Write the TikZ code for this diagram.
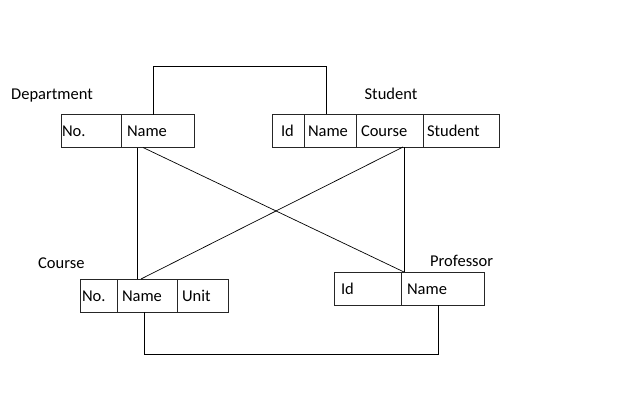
\documentclass[tikz,border=0pt]{standalone}
\usepackage{fontspec}
\setmainfont{Carlito}
\begin{document}
\begin{tikzpicture}[x=1pt,y=-1pt,
  every node/.style={font=\fontsize{16.5}{19}\selectfont, text=black},
  cell/.style n args={2}{draw=black!85, line width=0.8pt, minimum height=33pt, inner ysep=0pt,
     outer sep=0pt, inner xsep=#2, text width=#1, text height=13pt, text depth=2pt,
     align=left, anchor=west},
  title/.style={inner sep=0pt},
  link/.style={draw=black, line width=0.7pt}]
\useasboundingbox (0,0) rectangle (640,420);
% Department
\node[title, anchor=west] (dlab) at (11,96) {Department};
\node[cell={58pt}{1pt}] (dno) at (61,131) {No.};
\node[cell={61pt}{6pt}] (dname) at (dno.east) {Name};
% Student
\node[title] (slab) at (391,94) {Student};
\node[cell={14pt}{9pt}] (sid) at (272,130.5) {Id};
\node[cell={44pt}{4pt}] (sname) at (sid.east) {Name};
\node[cell={57pt}{5pt}] (scourse) at (sname.east) {Course};
\node[cell={68pt}{4pt}] (sstudent) at (scourse.east) {Student};
% Course
\node[title, anchor=west] (clab) at (38,263) {Course};
\node[cell={33pt}{2pt}] (cno) at (80,295.5) {No.};
\node[cell={50pt}{5pt}] (cname) at (cno.east) {Name};
\node[cell={41pt}{5pt}] (cunit) at (cname.east) {Unit};
% Professor
\node[title, anchor=west] (plab) at (430,261) {Professor};
\node[cell={53pt}{7pt}] (pid) at (334,288.5) {Id};
\node[cell={71pt}{6pt}] (pname) at (pid.east) {Name};
% connectors
\draw[link] ([xshift=32pt]dname.north west) -- ++(0,-48) -| ([xshift=22pt]sname.north west);
\draw[link] ([xshift=16pt]dname.south west) -- ([xshift=20pt]cname.north west);
\draw[link] ([xshift=22pt]dname.south west) -- ([xshift=3pt]pname.north west);
\draw[link] ([xshift=48pt]scourse.south west) -- ([xshift=3pt]pname.north west);
\draw[link] ([xshift=47pt]scourse.south west) -- ([xshift=24pt]cname.north west);
\draw[link] ([xshift=27pt]cname.south west) -- ++(0,42) -| ([xshift=37pt]pname.south west);
\end{tikzpicture}
\end{document}
